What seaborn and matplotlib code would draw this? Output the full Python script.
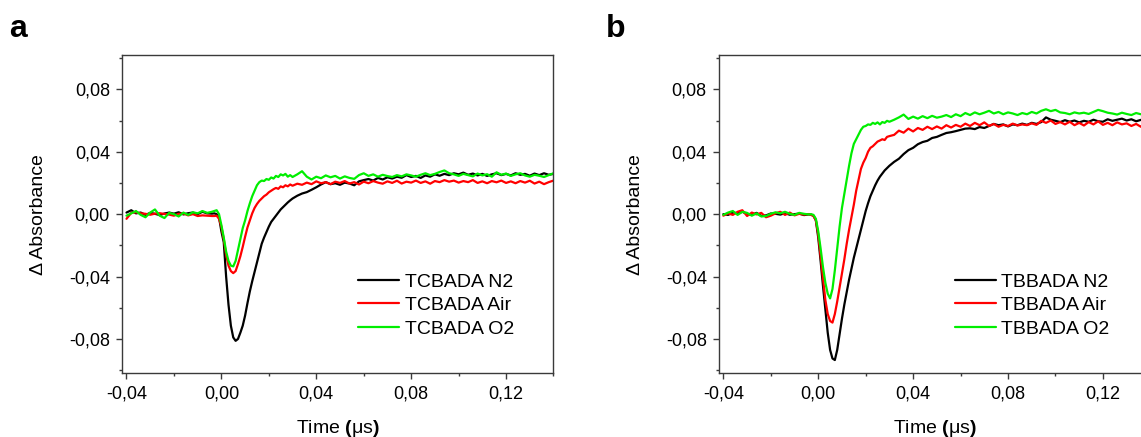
import numpy as np
import pandas as pd
import seaborn as sns
import matplotlib
matplotlib.use("Agg")
import matplotlib.pyplot as plt
from matplotlib.ticker import MultipleLocator, FuncFormatter

# 시간축 (µs) - 두 패널 공통
time_us = [
    -0.040, -0.038, -0.036, -0.034, -0.032, -0.030, -0.028, -0.026, -0.024, -0.022,
    -0.020, -0.018, -0.016, -0.014, -0.012, -0.010, -0.008, -0.006, -0.004,
    -0.003, -0.002, -0.001, 0.000,
    0.001, 0.002, 0.003, 0.004, 0.005, 0.006, 0.007, 0.008, 0.009, 0.010,
    0.011, 0.012, 0.013, 0.014, 0.015, 0.016, 0.017, 0.018, 0.019, 0.020,
    0.021, 0.022, 0.023, 0.024, 0.025, 0.026, 0.027, 0.028, 0.029, 0.030,
    0.032, 0.034, 0.036, 0.038, 0.040, 0.042, 0.044, 0.046, 0.048, 0.050,
    0.052, 0.054, 0.056, 0.058, 0.060, 0.062, 0.064, 0.066, 0.068, 0.070,
    0.072, 0.074, 0.076, 0.078, 0.080, 0.082, 0.084, 0.086, 0.088, 0.090,
    0.092, 0.094, 0.096, 0.098, 0.100, 0.102, 0.104, 0.106, 0.108, 0.110,
    0.112, 0.114, 0.116, 0.118, 0.120, 0.122, 0.124, 0.126, 0.128, 0.130,
    0.132, 0.134, 0.136, 0.138, 0.140,
]

# 패널 a : TCBADA
tcbada_n2 = [
    0.0010, 0.0025, 0.0005, 0.0010, -0.0005, 0.0008, 0.0002, -0.0006, 0.0004, 0.0010,
    0.0003, 0.0012, -0.0002, 0.0006, 0.0010, 0.0000, 0.0015, 0.0005, 0.0003,
    0.0005, 0.0000, -0.0020, -0.0110,
    -0.0180, -0.0400, -0.0580, -0.0715, -0.0790, -0.0812, -0.0800, -0.0760, -0.0715, -0.0650,
    -0.0570, -0.0495, -0.0430, -0.0370, -0.0310, -0.0250, -0.0190, -0.0150, -0.0115, -0.0080,
    -0.0050, -0.0030, -0.0010, 0.0010, 0.0030, 0.0045, 0.0060, 0.0075, 0.0088, 0.0100,
    0.0118, 0.0132, 0.0141, 0.0156, 0.0172, 0.0190, 0.0205, 0.0192, 0.0198, 0.0188,
    0.0202, 0.0196, 0.0185, 0.0210, 0.0218, 0.0225, 0.0215, 0.0232, 0.0222, 0.0236,
    0.0228, 0.0240, 0.0233, 0.0250, 0.0238, 0.0245, 0.0232, 0.0248, 0.0240, 0.0255,
    0.0246, 0.0258, 0.0250, 0.0262, 0.0255, 0.0266, 0.0252, 0.0260, 0.0248, 0.0258,
    0.0245, 0.0255, 0.0262, 0.0250, 0.0258, 0.0248, 0.0262, 0.0252, 0.0258, 0.0246,
    0.0260, 0.0250, 0.0262, 0.0252, 0.0258,
]
tcbada_air = [
    -0.0030, 0.0008, 0.0012, 0.0005, 0.0002, -0.0004, 0.0003, 0.0006, 0.0001, -0.0003,
    -0.0010, 0.0002, 0.0004, -0.0008, 0.0000, -0.0012, -0.0008, -0.0010, -0.0012,
    -0.0012, -0.0010, -0.0030, -0.0080,
    -0.0160, -0.0260, -0.0330, -0.0365, -0.0378, -0.0365, -0.0320, -0.0270, -0.0210, -0.0145,
    -0.0085, -0.0040, 0.0005, 0.0040, 0.0065, 0.0085, 0.0100, 0.0115, 0.0125, 0.0140,
    0.0150, 0.0160, 0.0168, 0.0162, 0.0178, 0.0172, 0.0185, 0.0178, 0.0190, 0.0182,
    0.0195, 0.0188, 0.0202, 0.0192, 0.0210, 0.0198, 0.0205, 0.0192, 0.0208, 0.0200,
    0.0212, 0.0196, 0.0205, 0.0190, 0.0208, 0.0198, 0.0212, 0.0202, 0.0195, 0.0210,
    0.0200, 0.0214, 0.0196, 0.0208, 0.0202, 0.0215, 0.0200, 0.0210, 0.0195, 0.0212,
    0.0205, 0.0218, 0.0208, 0.0215, 0.0202, 0.0212, 0.0205, 0.0218, 0.0200, 0.0210,
    0.0198, 0.0212, 0.0204, 0.0215, 0.0200, 0.0210, 0.0198, 0.0212, 0.0202, 0.0214,
    0.0196, 0.0208, 0.0192, 0.0205, 0.0215,
]
tcbada_o2 = [
    -0.0010, 0.0005, 0.0020, -0.0005, -0.0020, 0.0010, 0.0030, -0.0010, -0.0025, 0.0008,
    0.0000, -0.0015, 0.0010, -0.0005, 0.0012, 0.0005, 0.0020, 0.0008, 0.0015,
    0.0020, 0.0025, 0.0000, -0.0070,
    -0.0150, -0.0240, -0.0300, -0.0330, -0.0335, -0.0300, -0.0230, -0.0160, -0.0090, -0.0040,
    0.0020, 0.0070, 0.0115, 0.0150, 0.0185, 0.0205, 0.0215, 0.0212, 0.0225, 0.0220,
    0.0235, 0.0228, 0.0245, 0.0238, 0.0255, 0.0248, 0.0258, 0.0240, 0.0250, 0.0238,
    0.0255, 0.0275, 0.0240, 0.0222, 0.0240, 0.0230, 0.0248, 0.0236, 0.0245, 0.0228,
    0.0242, 0.0232, 0.0226, 0.0250, 0.0262, 0.0245, 0.0255, 0.0240, 0.0252, 0.0244,
    0.0238, 0.0250, 0.0242, 0.0255, 0.0248, 0.0240, 0.0252, 0.0262, 0.0250, 0.0258,
    0.0270, 0.0280, 0.0262, 0.0255, 0.0245, 0.0258, 0.0250, 0.0242, 0.0260, 0.0248,
    0.0256, 0.0240, 0.0268, 0.0252, 0.0260, 0.0245, 0.0255, 0.0262, 0.0248, 0.0240,
    0.0252, 0.0246, 0.0238, 0.0250, 0.0262,
]

# 패널 b : TBBADA
tbbada_n2 = [
    0.0000, -0.0005, 0.0010, 0.0005, 0.0015, 0.0002, -0.0005, 0.0008, -0.0012, -0.0008,
    0.0004, 0.0002, -0.0003, 0.0006, -0.0004, 0.0000, 0.0003, -0.0006, -0.0002,
    -0.0004, -0.0010, -0.0040, -0.0150,
    -0.0300, -0.0460, -0.0610, -0.0760, -0.0870, -0.0925, -0.0935, -0.0870, -0.0770, -0.0670,
    -0.0580, -0.0500, -0.0420, -0.0350, -0.0280, -0.0220, -0.0160, -0.0100, -0.0040, 0.0020,
    0.0070, 0.0115, 0.0150, 0.0185, 0.0215, 0.0240, 0.0260, 0.0280, 0.0295, 0.0310,
    0.0335, 0.0355, 0.0385, 0.0410, 0.0425, 0.0448, 0.0462, 0.0470, 0.0488, 0.0495,
    0.0508, 0.0520, 0.0525, 0.0532, 0.0540, 0.0548, 0.0550, 0.0545, 0.0558, 0.0552,
    0.0565, 0.0578, 0.0570, 0.0575, 0.0562, 0.0575, 0.0570, 0.0580, 0.0572, 0.0585,
    0.0578, 0.0590, 0.0620, 0.0605, 0.0598, 0.0590, 0.0602, 0.0592, 0.0600, 0.0588,
    0.0598, 0.0592, 0.0605, 0.0595, 0.0592, 0.0608, 0.0598, 0.0605, 0.0612, 0.0600,
    0.0608, 0.0595, 0.0604, 0.0598, 0.0606,
]
tbbada_air = [
    -0.0010, 0.0005, -0.0005, 0.0015, 0.0025, -0.0012, 0.0010, -0.0002, 0.0008, -0.0020,
    -0.0010, 0.0005, 0.0015, -0.0005, 0.0010, -0.0008, 0.0002, -0.0003, 0.0000,
    -0.0005, -0.0012, -0.0040, -0.0130,
    -0.0270, -0.0410, -0.0550, -0.0640, -0.0685, -0.0695, -0.0640, -0.0560, -0.0470, -0.0380,
    -0.0290, -0.0190, -0.0100, -0.0020, 0.0060, 0.0150, 0.0220, 0.0290, 0.0330, 0.0360,
    0.0400, 0.0425, 0.0435, 0.0450, 0.0465, 0.0472, 0.0480, 0.0475, 0.0495, 0.0500,
    0.0508, 0.0535, 0.0522, 0.0548, 0.0530, 0.0552, 0.0540, 0.0560, 0.0545, 0.0562,
    0.0548, 0.0570, 0.0555, 0.0572, 0.0560, 0.0580, 0.0565, 0.0585, 0.0570, 0.0588,
    0.0565, 0.0578, 0.0560, 0.0572, 0.0565, 0.0580, 0.0568, 0.0575, 0.0570, 0.0582,
    0.0572, 0.0598, 0.0585, 0.0600, 0.0578, 0.0590, 0.0575, 0.0592, 0.0570, 0.0585,
    0.0568, 0.0590, 0.0575, 0.0595, 0.0572, 0.0585, 0.0570, 0.0588, 0.0575, 0.0582,
    0.0565, 0.0578, 0.0560, 0.0575, 0.0568,
]
tbbada_o2 = [
    -0.0005, 0.0010, 0.0020, -0.0005, 0.0015, 0.0008, -0.0010, 0.0005, -0.0015, -0.0012,
    0.0002, 0.0012, 0.0005, 0.0015, 0.0002, -0.0005, 0.0008, 0.0002, -0.0002,
    0.0000, -0.0005, -0.0030, -0.0110,
    -0.0220, -0.0340, -0.0440, -0.0510, -0.0540, -0.0480, -0.0360, -0.0220, -0.0080, 0.0040,
    0.0130, 0.0220, 0.0310, 0.0390, 0.0450, 0.0480, 0.0510, 0.0540, 0.0560, 0.0565,
    0.0575, 0.0572, 0.0585, 0.0578, 0.0588, 0.0575, 0.0590, 0.0585, 0.0598, 0.0592,
    0.0605, 0.0620, 0.0638, 0.0610, 0.0625, 0.0612, 0.0628, 0.0615, 0.0630, 0.0618,
    0.0625, 0.0635, 0.0622, 0.0640, 0.0628, 0.0648, 0.0635, 0.0652, 0.0640, 0.0650,
    0.0662, 0.0645, 0.0655, 0.0640, 0.0652, 0.0645, 0.0635, 0.0648, 0.0640, 0.0655,
    0.0645, 0.0662, 0.0672, 0.0660, 0.0668, 0.0652, 0.0648, 0.0640, 0.0652, 0.0645,
    0.0650, 0.0642, 0.0655, 0.0668, 0.0660, 0.0650, 0.0645, 0.0638, 0.0650, 0.0642,
    0.0635, 0.0648, 0.0640, 0.0652, 0.0645,
]

labels_a = ["TCBADA N2", "TCBADA Air", "TCBADA O2"]
labels_b = ["TBBADA N2", "TBBADA Air", "TBBADA O2"]
line_colors = ["#000000", "#ff0000", "#00ee00"]

sns.set_style("ticks")
plt.rcParams["font.family"] = ["Liberation Sans", "DejaVu Sans"]
plt.rcParams["mathtext.fontset"] = "custom"
plt.rcParams["mathtext.rm"] = "Liberation Sans"
plt.rcParams["mathtext.bf"] = "Liberation Sans:bold"
plt.rcParams["text.color"] = "black"
plt.rcParams["axes.labelcolor"] = "black"

fig = plt.figure(figsize=(11.41, 4.37), dpi=100)
ax_a = fig.add_axes([0.1067, 0.1458, 0.3784, 0.7284])
ax_b = fig.add_axes([0.6298, 0.1458, 0.3784, 0.7284])


def long_table(labels, series):
    parts = []
    for lab, vals in zip(labels, series):
        parts.append(pd.DataFrame({"time": time_us, "absorbance": vals, "sample": lab}))
    return pd.concat(parts, ignore_index=True)


def comma_fmt(v, pos):
    if abs(v) < 1e-9:
        v = 0.0
    return f"{v:.2f}".replace(".", ",")


spine_col = "#3a3a3a"
panels = [
    (ax_a, labels_a, [tcbada_n2, tcbada_air, tcbada_o2]),
    (ax_b, labels_b, [tbbada_n2, tbbada_air, tbbada_o2]),
]

for ax, labels, series in panels:
    df = long_table(labels, series)
    sns.lineplot(data=df, x="time", y="absorbance", hue="sample", hue_order=labels,
                 palette=line_colors, linewidth=1.6, estimator=None, sort=False, ax=ax)

    ax.set_xlim(-0.042, 0.140)
    ax.set_ylim(-0.102, 0.102)
    ax.xaxis.set_major_locator(MultipleLocator(0.04))
    ax.xaxis.set_minor_locator(MultipleLocator(0.02))
    ax.yaxis.set_major_locator(MultipleLocator(0.04))
    ax.yaxis.set_minor_locator(MultipleLocator(0.02))
    ax.xaxis.set_major_formatter(FuncFormatter(comma_fmt))
    ax.yaxis.set_major_formatter(FuncFormatter(comma_fmt))
    ax.tick_params(which="both", direction="out", top=False, right=False,
                   color=spine_col, width=1.0, labelsize=13, labelcolor="black")
    ax.tick_params(which="major", length=4.5, pad=4)
    ax.tick_params(which="minor", length=2.5)
    for sp in ax.spines.values():
        sp.set_color(spine_col)
        sp.set_linewidth(1.0)

    ax.set_xlabel(r"Time $\mathbf{(}$μs$\mathbf{)}$", fontsize=14)
    ax.set_ylabel("Δ Absorbance", fontsize=14)
    ax.xaxis.set_label_coords(0.5, -0.14)
    ax.yaxis.set_label_coords(-0.172, 0.5)

    ax.legend(loc="upper left", bbox_to_anchor=(0.547, 0.315), frameon=False,
              fontsize=14, handlelength=2.1, handletextpad=0.3, labelspacing=0.3,
              borderpad=0, borderaxespad=0)

fig.text(9 / 1141, 1 - 37 / 437, "a", fontsize=23, fontweight="bold", va="baseline")
fig.text(606 / 1141, 1 - 37 / 437, "b", fontsize=23, fontweight="bold", va="baseline")

fig.savefig("out.png", dpi=100)
